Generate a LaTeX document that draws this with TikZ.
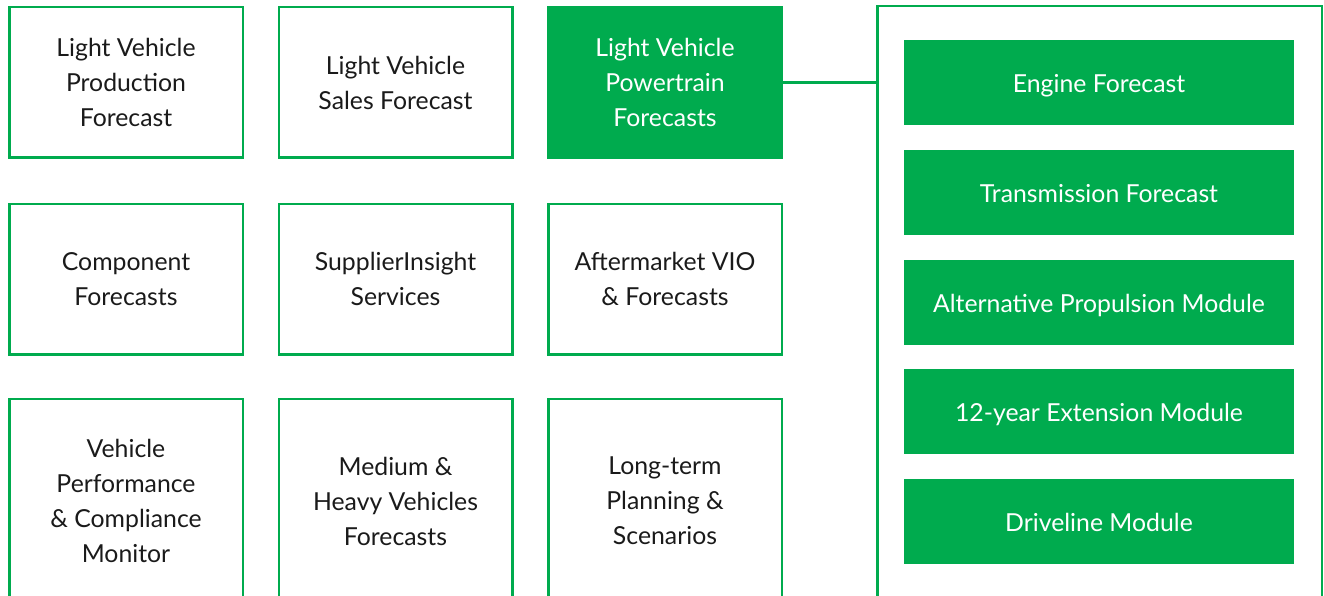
\documentclass[tikz,border=0pt]{standalone}
\usepackage{fontspec}
\setmainfont{Lato}
\usepackage{xcolor}
\definecolor{ihsgreen}{HTML}{00AB4E}
\definecolor{boxtext}{HTML}{1A1A1A}

\begin{document}
\begin{tikzpicture}[x=1pt, y=-1pt,
    product/.style={draw=ihsgreen, line width=2.5pt, minimum width=233.5pt,
        minimum height=150.5pt, inner sep=0pt, align=center, text=boxtext,
        font=\fontsize{24.8}{35}\selectfont},
    producthi/.style={product, fill=ihsgreen, text=white},
    module/.style={fill=ihsgreen, text=white, minimum width=390pt,
        minimum height=85pt, inner sep=0pt, outer sep=0pt,
        text height=22pt, text depth=2pt,
        font=\fontsize{24.8}{35}\selectfont}]
    \useasboundingbox (0,0) rectangle (1324,596);
    \clip (0,0) rectangle (1324,596);

    % first row
    \node[product] (lvprod) at (126, 82.5) {Light Vehicle\\Production\\Forecast};
    \node[product] (lvsales) at (395.5, 82.5) {Light Vehicle\\Sales Forecast};
    \node[producthi] (lvpower) at (665, 82.5) {Light Vehicle\\Powertrain\\Forecasts};

    % second row
    \node[product] (component) at (126, 279) {Component\\Forecasts};
    \node[product] (supplier) at (395.5, 279) {SupplierInsight\\Services};
    \node[product] (aftermarket) at (665, 279) {Aftermarket VIO\\\& Forecasts};

    % third row, runs off the bottom
    \node[product, minimum height=204pt] (vpcm) at (126, 501) {Vehicle\\Performance\\\& Compliance\\Monitor};
    \node[product, minimum height=204pt] (mhv) at (395.5, 501) {Medium \&\\Heavy Vehicles\\Forecasts};
    \node[product, minimum height=204pt] (longterm) at (665, 501) {Long-term\\Planning \&\\Scenarios};

    % powertrain modules
    \node[draw=ihsgreen, line width=2.5pt, outer sep=0pt, anchor=north west,
        minimum width=444.75pt, minimum height=640pt] (modules) at (877.25, 6.25) {};
    \node[module] (engine) at (1099, 82.5) {Engine Forecast};
    \node[module] (transmission) at (1099, 192.5) {Transmission Forecast};
    \node[module] (altprop) at (1099, 302) {Alternative Propulsion Module};
    \node[module] (extension) at (1099, 411.5) {12-year Extension Module};
    \node[module] (driveline) at (1099, 521) {Driveline Module};

    \draw[ihsgreen, line width=2.5pt] (lvpower.east) -- (lvpower.east -| modules.west); % powertrain-modules
\end{tikzpicture}
\end{document}
